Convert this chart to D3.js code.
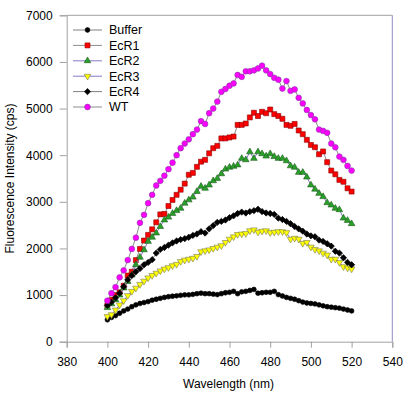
<!DOCTYPE html>
<html>
<head>
<meta charset="utf-8">
<script src="https://cdn.jsdelivr.net/npm/d3@7"></script>
<style>
  html, body { margin: 0; padding: 0; background: #fff; }
  svg { display: block; }
  text { font-family: "Liberation Sans", Arial, sans-serif; fill: #000; }
</style>
</head>
<body>
<svg id="chart" width="406" height="394"></svg>
<script>
// ---- Data ----
const wavelengths = d3.range(400, 521, 2); // 400..520 nm, 2 nm step (61 points)

const buffer = [470,520,560,610,660,700,750,790,820,840,860,890,910,930,950,965,975,985,995,1005,1005,1015,1030,1040,1030,1030,1020,1010,1030,1050,1060,1080,1030,1070,1080,1100,1120,1040,1050,1060,1060,1080,1010,980,950,930,910,880,850,830,820,810,790,770,750,740,730,720,700,680,660];

const ecr1 = [780,900,1000,1060,1200,1420,1500,1750,1990,2170,2290,2410,2560,2730,2740,2910,3040,3150,3260,3390,3580,3620,3750,3860,3900,4040,4150,4200,4360,4360,4380,4400,4650,4650,4680,4810,4910,4840,4930,4900,4980,4880,4840,4780,4650,4630,4670,4530,4450,4330,4220,4170,4020,4080,3850,3670,3590,3470,3430,3290,3220];

const ecr2 = [730,810,900,1000,1150,1290,1430,1650,1810,1970,2150,2240,2330,2470,2610,2670,2750,2810,2860,2970,3040,3100,3220,3330,3290,3360,3450,3500,3600,3700,3740,3760,3790,3930,3900,4070,3930,4070,4030,3980,4030,3970,3930,3930,3880,3770,3740,3630,3630,3530,3360,3270,3180,3110,2980,2930,2860,2830,2650,2600,2530];

const ecr3 = [540,580,680,790,880,990,1080,1150,1230,1300,1370,1420,1470,1520,1560,1590,1630,1660,1720,1750,1770,1790,1830,1930,1950,1970,2000,2030,2060,2130,2200,2250,2300,2310,2320,2380,2400,2350,2370,2380,2340,2350,2360,2360,2340,2200,2220,2200,2110,2130,2030,1980,1950,1900,1860,1770,1770,1700,1610,1580,1560];

const ecr4 = [780,850,940,1040,1180,1330,1420,1500,1570,1650,1700,1760,1900,1980,2020,2070,2120,2160,2190,2210,2240,2280,2310,2360,2330,2420,2490,2560,2580,2610,2660,2700,2750,2780,2760,2790,2810,2840,2790,2760,2750,2730,2650,2620,2580,2530,2470,2420,2370,2310,2270,2250,2180,2150,2100,2050,1940,1900,1800,1700,1650];

const wt = [880,1040,1170,1380,1530,1750,1990,2230,2550,2720,2970,3150,3350,3450,3560,3700,3840,4000,4150,4250,4340,4450,4550,4730,4670,4900,5000,5150,5360,5420,5490,5540,5720,5680,5800,5800,5820,5860,5920,5820,5740,5660,5620,5430,5590,5380,5410,5230,5110,4970,4860,4770,4550,4520,4480,4250,4170,3970,3900,3770,3670];

const seriesNames = ["Buffer", "EcR1", "EcR2", "EcR3", "EcR4", "WT"];
const seriesValues = [buffer, ecr1, ecr2, ecr3, ecr4, wt];

const xTicks = [380, 400, 420, 440, 460, 480, 500, 520, 540];
const yTicks = [0, 1000, 2000, 3000, 4000, 5000, 6000, 7000];
const xTitle = "Wavelength (nm)";
const yTitle = "Fluorescence Intensity (cps)";

// ---- Styles ----
const styles = {
  "Buffer": { shape: "circle", size: 18, fill: "#000000", stroke: "#000000", line: "#808080" },
  "EcR1":   { shape: "square", size: 25, fill: "#ff0000", stroke: "#8a0000", line: "#8c8c8c" },
  "EcR2":   { shape: "triUp", size: 19, fill: "#2aa02a", stroke: "#1a5a1a", line: "#8878c8" },
  "EcR3":   { shape: "triDown", size: 19, fill: "#ffff00", stroke: "#7a7a50", line: "#8878c8" },
  "EcR4":   { shape: "diamond", size: 20, fill: "#000000", stroke: "#000000", line: "#808080" },
  "WT":     { shape: "circle", size: 26, fill: "#ff00ff", stroke: "#8040a0", line: "#8c8c8c" }
};

const svg = d3.select("#chart");
const x = d3.scaleLinear().domain([380, 540]).range([66.7, 392.3]);
const y = d3.scaleLinear().domain([0, 7000]).range([341.7, 15.3]);

function symPath(shape, size) {
  if (shape === "circle") return d3.symbol().type(d3.symbolCircle).size(size)();
  if (shape === "square") return d3.symbol().type(d3.symbolSquare).size(size)();
  if (shape === "triUp" || shape === "triDown") return d3.symbol().type(d3.symbolTriangle).size(size)();
  if (shape === "diamond") return d3.symbol().type(d3.symbolSquare).size(size)();
}
function symRot(shape) {
  if (shape === "triDown") return 180;
  if (shape === "diamond") return 45;
  return 0;
}

// ---- Frame ----
const frame = svg.append("g");
frame.append("line").attr("x1", x(380)).attr("x2", x(540)).attr("y1", y(7000)).attr("y2", y(7000))
  .attr("stroke", "#a0a0a0").attr("stroke-width", 1);
frame.append("line").attr("x1", x(540)).attr("x2", x(540)).attr("y1", y(7000)).attr("y2", y(0))
  .attr("stroke", "#9888c8").attr("stroke-width", 1);

// ---- Axes ----
const xAxis = d3.axisBottom(x).tickValues(xTicks).tickSize(6).tickPadding(10).tickFormat(d3.format("d"));
const yAxis = d3.axisLeft(y).tickValues(yTicks).tickSize(7).tickPadding(7).tickFormat(d3.format("d"));

const gx = svg.append("g").attr("transform", `translate(0,${y(0)})`).call(xAxis);
const gy = svg.append("g").attr("transform", `translate(${x(380)},0)`).call(yAxis);
[gx, gy].forEach(g => {
  g.select(".domain").attr("stroke", "#a0a0a0");
  g.selectAll(".tick line").attr("stroke", "#a0a0a0");
  g.selectAll(".tick text").attr("font-size", 12).attr("font-family", '"Liberation Sans", Arial, sans-serif').attr("fill", "#000");
});

svg.append("text").attr("x", (x(380) + x(540)) / 2 - 1).attr("y", 388)
  .attr("text-anchor", "middle").attr("font-size", 12).text(xTitle);
svg.append("text").attr("transform", `translate(14,${(y(0) + y(7000)) / 2}) rotate(-90)`)
  .attr("text-anchor", "middle").attr("font-size", 12).text(yTitle);

// ---- Series ----
seriesNames.forEach((name, i) => {
  const st = styles[name];
  const vals = seriesValues[i];
  const pts = wavelengths.map((w, j) => [w, vals[j]]);
  const g = svg.append("g");
  g.append("path").datum(pts)
    .attr("fill", "none").attr("stroke", st.line).attr("stroke-width", 1)
    .attr("d", d3.line().x(d => x(d[0])).y(d => y(d[1])));
  g.selectAll("path.m").data(pts).enter().append("path").attr("class", "m")
    .attr("d", symPath(st.shape, st.size))
    .attr("transform", d => `translate(${x(d[0])},${y(d[1])}) rotate(${symRot(st.shape)})`)
    .attr("fill", st.fill).attr("stroke", st.stroke).attr("stroke-width", 0.6);
});

// ---- Legend ----
const legend = svg.append("g");
seriesNames.forEach((name, i) => {
  const st = styles[name];
  const ly = 30 + i * 15.4;
  legend.append("line").attr("x1", 73).attr("x2", 102).attr("y1", ly).attr("y2", ly)
    .attr("stroke", st.line).attr("stroke-width", 1);
  legend.append("path").attr("d", symPath(st.shape, st.size))
    .attr("transform", `translate(87.5,${ly}) rotate(${symRot(st.shape)})`)
    .attr("fill", st.fill).attr("stroke", st.stroke).attr("stroke-width", 0.6);
  legend.append("text").attr("x", 109).attr("y", ly + 4.3).attr("font-size", 12.5).text(name);
});
</script>
</body>
</html>
